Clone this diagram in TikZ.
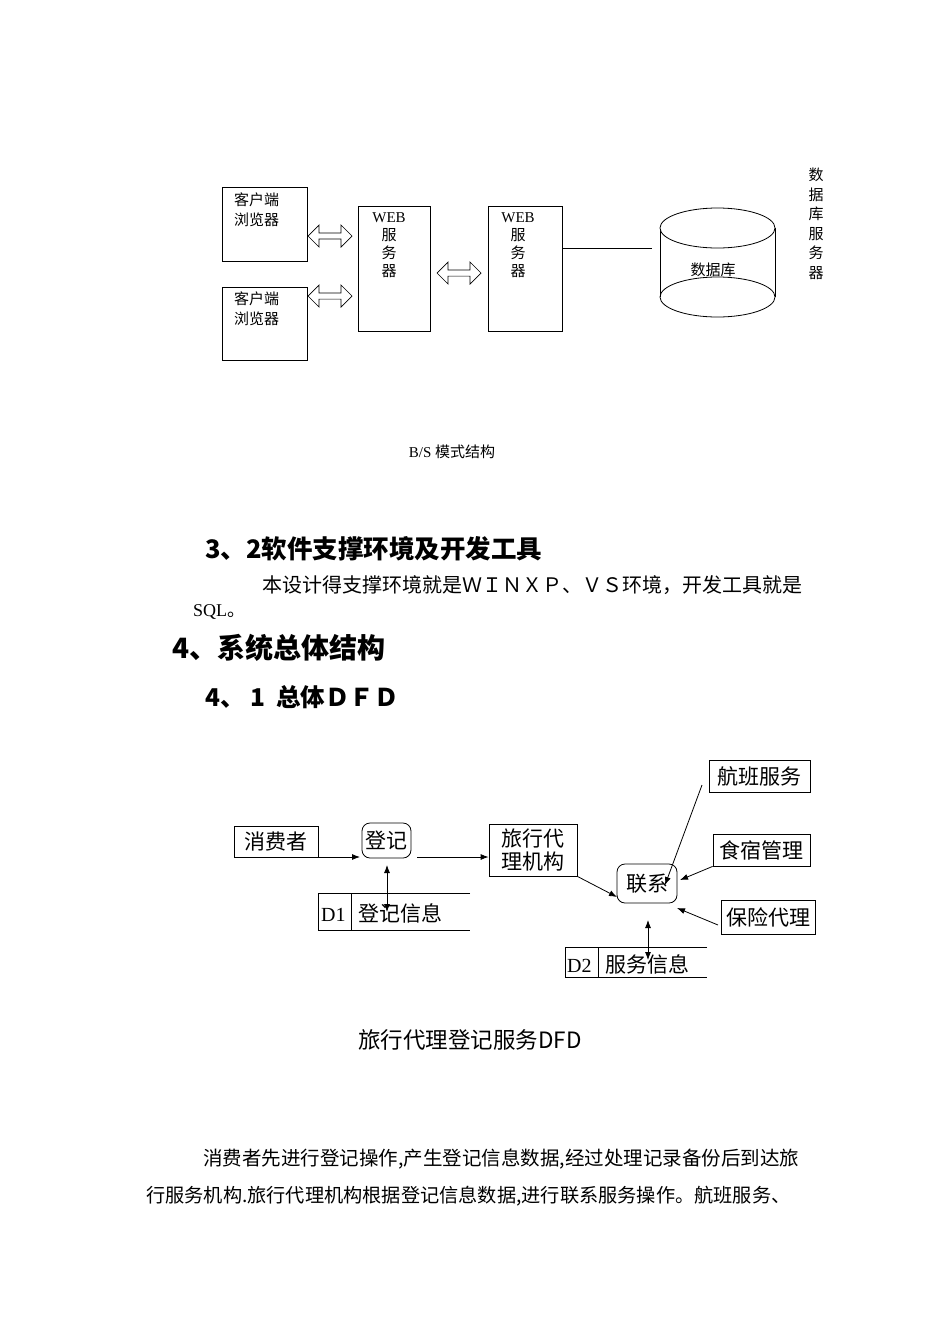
\documentclass[tikz,border=0pt]{standalone}
\usepackage{fontspec}
\setmainfont{Liberation Serif}
\newfontfamily\cjk{Noto Sans CJK SC}
\usetikzlibrary{shapes.arrows,arrows.meta}
\begin{document}
\begin{tikzpicture}[x=1pt,y=-1pt,
  box/.style={draw,line width=0.8pt,inner sep=0},
  dar/.style={double arrow,draw,line width=0.7pt,minimum height=44pt,minimum width=22pt,double arrow head extend=6pt,inner sep=2pt},
  lab/.style={font=\fontsize{15}{20}\selectfont,align=center,inner sep=0},
  dfd/.style={font=\cjk\fontsize{21}{25}\selectfont,inner sep=0},
  arr/.style={-{Latex[length=8pt,width=6pt]},line width=0.8pt},
  darr/.style={{Latex[length=8pt,width=6pt]}-{Latex[length=8pt,width=6pt]},line width=0.8pt},
  txt/.style={anchor=base west,inner sep=0}]
\useasboundingbox (0,0) rectangle (950,1344);
% ---- B/S diagram
\node[box,minimum width=85pt,minimum height=74pt] (c1) at (264.5,224) {};
\node[lab,anchor=north west] (c1t) at (234,193) {\cjk 客户端\\\cjk 浏览器};
\node[box,minimum width=85pt,minimum height=73pt] (c2) at (264.5,323.5) {};
\node[lab,anchor=north west] (c2t) at (234,292) {\cjk 客户端\\\cjk 浏览器};
\node[box,minimum width=72pt,minimum height=125pt] (w1) at (394,268.5) {};
\node[lab,anchor=north,font=\fontsize{15}{18}\selectfont] (w1t) at (389,212) {WEB\\\cjk 服\\\cjk 务\\\cjk 器};
\node[box,minimum width=74pt,minimum height=125pt] (w2) at (525,268.5) {};
\node[lab,anchor=north,font=\fontsize{15}{18}\selectfont] (w2t) at (518,212) {WEB\\\cjk 服\\\cjk 务\\\cjk 器};
\node[dar] (a1) at (330,236) {};
\node[dar] (a2) at (330,296) {};
\node[dar] (a3) at (459,273) {};
\coordinate (dbl) at (652,248);
\draw[line width=0.8pt] (w2.east |- dbl) -- (dbl);
\draw[line width=0.8pt] (660,228) -- (660,297) (775,228) -- (775,297);
\draw[line width=0.8pt,fill=white] (717.5,228) ellipse (57.5pt and 20pt);
\draw[line width=0.8pt] (717.5,297) ellipse (57.5pt and 20pt);
\node[lab] (dbt) at (713,270) {\cjk 数据库};
\node[lab,anchor=north,font=\fontsize{15}{19.5}\selectfont] (dbs) at (816,168) {\cjk 数\\\cjk 据\\\cjk 库\\\cjk 服\\\cjk 务\\\cjk 器};
\node[lab] (cap1) at (452,452) {B/S \cjk 模式结构};
% ---- headings and text
\node[txt,font=\cjk\bfseries\fontsize{25.5}{30}\selectfont] (h32) at (205,558) {3、2软件支撑环境及开发工具};
\node[txt,font=\cjk\fontsize{20}{24}\selectfont] (p1) at (262,592) {本设计得支撑环境就是ＷＩＮＸＰ、ＶＳ环境，开发工具就是};
\node[txt,font=\fontsize{18}{22}\selectfont] (p2) at (193,616) {SQL\cjk 。};
\node[txt,font=\cjk\bfseries\fontsize{28}{32}\selectfont] (h4) at (172,658) {4、系统总体结构};
\node[txt,font=\cjk\bfseries\fontsize{24.5}{28}\selectfont] (h41) at (205,706) {4、 1\ \ 总体ＤＦＤ};
% ---- DFD
\node[box,dfd,minimum width=84pt,minimum height=31pt] (xf) at (276,841.5) {消费者};
\node[box,dfd,rounded corners=8pt,minimum width=49pt,minimum height=35pt] (dj) at (386.5,840.5) {登记};
\node[box,dfd,align=center,minimum width=88pt,minimum height=52pt,font=\cjk\fontsize{21}{23}\selectfont] (ly) at (533,850) {旅行代\\理机构};
\node[box,dfd,rounded corners=8pt,minimum width=60pt,minimum height=39pt] (lx) at (647,883.5) {联系};
\node[box,dfd,minimum width=101pt,minimum height=32pt] (hb) at (759.5,776) {航班服务};
\node[box,dfd,minimum width=97pt,minimum height=32pt] (ss) at (761.5,850) {食宿管理};
\node[box,dfd,minimum width=94pt,minimum height=34pt] (bx) at (768,917) {保险代理};
\coordinate (xfo) at (318,857);
\coordinate (hbo) at (702,785);
\coordinate (bxo) at (718,925);
\draw[arr] (xfo) -- (360,857);
\draw[arr] (417,857) -- (ly.west |- 0,857);
\draw[arr] (ly.south east) -- (617,897);
\draw[arr] (hbo) -- (665,885);
\draw[arr] (ss.south west) -- (680,880);
\draw[arr] (bxo) -- (677,908);
% stores
\draw[line width=0.8pt] (470,893) -- (318,893) -- (318,930) -- (470,930) (351,893) -- (351,930);
\node[txt,font=\fontsize{20}{22}\selectfont] (d1) at (321,921) {D1};
\node[txt,dfd] (d1t) at (358,921) {登记信息};
\draw[darr] (387,865) -- (387,912);
\draw[line width=0.8pt] (707,947) -- (565,947) -- (565,977) -- (707,977) (598,947) -- (598,977);
\node[txt,font=\fontsize{20}{22}\selectfont] (d2) at (567,972) {D2};
\node[txt,dfd] (d2t) at (605,972) {服务信息};
\draw[darr] (648,920) -- (648,960);
\node[dfd,font=\cjk\fontsize{22.5}{26}\selectfont] (cap2) at (470,1040) {旅行代理登记服务DFD};
% ---- bottom paragraph
\node[txt,font=\cjk\fontsize{19.5}{22}\selectfont] (b1) at (203,1165) {消费者先进行登记操作,产生登记信息数据,经过处理记录备份后到达旅};
\node[txt,font=\cjk\fontsize{19.2}{22}\selectfont] (b2) at (146,1202) {行服务机构.旅行代理机构根据登记信息数据,进行联系服务操作。航班服务、};
\end{tikzpicture}
\end{document}
